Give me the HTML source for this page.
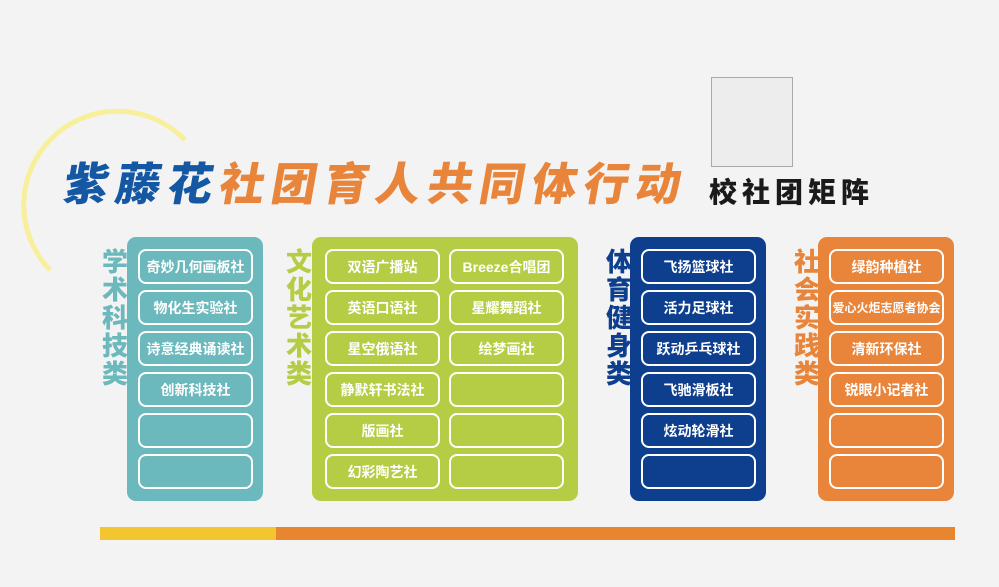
<!DOCTYPE html>
<html><head><meta charset="utf-8"><style>
body{margin:0;width:999px;height:587px;background:#f3f3f3;position:relative;overflow:hidden;font-family:"Liberation Sans","Noto Sans CJK SC",sans-serif}
.a{position:absolute}
.panel{position:absolute;border-radius:9px}
.it{position:absolute;border:2px solid #fff;border-radius:8px;box-sizing:border-box;height:35px;color:#fff;font-weight:bold;font-size:14px;display:flex;align-items:center;justify-content:center;white-space:nowrap}
.vl{position:absolute;width:26px;font-size:26px;line-height:28px;font-weight:900;text-align:center}
</style></head><body>
<svg class="a" style="left:0;top:0" width="999" height="587"><path d="M50 270 A78 78 0 0 1 185 140" fill="none" stroke="#f7ef9c" stroke-width="5"/></svg>
<div class="a" style="left:711px;top:77px;width:80px;height:88px;background:#ededed;border:1px solid #aaa"></div>
<div class="a" style="left:64px;top:160px;font-size:45px;font-weight:900;letter-spacing:7px;transform:skewX(-10deg);white-space:nowrap;line-height:50px"><span style="color:#1457a3">紫藤花</span><span style="color:#e8853a">社团育人共同体行动</span></div>
<div class="a" style="left:709px;top:178px;font-size:28px;font-weight:900;color:#1a1a1a;letter-spacing:5px;line-height:30px">校社团矩阵</div>

<div class="vl" style="left:102px;top:248px;color:#6bb8bd">学术科技类</div>
<div class="vl" style="left:286px;top:248px;color:#b5cc45">文化艺术类</div>
<div class="vl" style="left:606px;top:248px;color:#0d3f8e">体育健身类</div>
<div class="vl" style="left:794px;top:248px;color:#e8853a">社会实践类</div>

<div class="panel" style="left:127px;top:237px;width:136px;height:264px;background:#6bb8bd"></div>
<div class="panel" style="left:312px;top:237px;width:266px;height:264px;background:#b5cc45"></div>
<div class="panel" style="left:630px;top:237px;width:136px;height:264px;background:#0d3f8e"></div>
<div class="panel" style="left:818px;top:237px;width:136px;height:264px;background:#e8853a"></div>

<div class="it" style="left:138px;top:249px;width:115px">奇妙几何画板社</div>
<div class="it" style="left:138px;top:290px;width:115px">物化生实验社</div>
<div class="it" style="left:138px;top:331px;width:115px">诗意经典诵读社</div>
<div class="it" style="left:138px;top:372px;width:115px">创新科技社</div>
<div class="it" style="left:138px;top:413px;width:115px"></div>
<div class="it" style="left:138px;top:454px;width:115px"></div>

<div class="it" style="left:325px;top:249px;width:115px">双语广播站</div>
<div class="it" style="left:325px;top:290px;width:115px">英语口语社</div>
<div class="it" style="left:325px;top:331px;width:115px">星空俄语社</div>
<div class="it" style="left:325px;top:372px;width:115px">静默轩书法社</div>
<div class="it" style="left:325px;top:413px;width:115px">版画社</div>
<div class="it" style="left:325px;top:454px;width:115px">幻彩陶艺社</div>
<div class="it" style="left:449px;top:249px;width:115px">Breeze合唱团</div>
<div class="it" style="left:449px;top:290px;width:115px">星耀舞蹈社</div>
<div class="it" style="left:449px;top:331px;width:115px">绘梦画社</div>
<div class="it" style="left:449px;top:372px;width:115px"></div>
<div class="it" style="left:449px;top:413px;width:115px"></div>
<div class="it" style="left:449px;top:454px;width:115px"></div>

<div class="it" style="left:641px;top:249px;width:115px">飞扬篮球社</div>
<div class="it" style="left:641px;top:290px;width:115px">活力足球社</div>
<div class="it" style="left:641px;top:331px;width:115px">跃动乒乓球社</div>
<div class="it" style="left:641px;top:372px;width:115px">飞驰滑板社</div>
<div class="it" style="left:641px;top:413px;width:115px">炫动轮滑社</div>
<div class="it" style="left:641px;top:454px;width:115px"></div>

<div class="it" style="left:829px;top:249px;width:115px">绿韵种植社</div>
<div class="it" style="left:829px;top:290px;width:115px;font-size:12px">爱心火炬志愿者协会</div>
<div class="it" style="left:829px;top:331px;width:115px">清新环保社</div>
<div class="it" style="left:829px;top:372px;width:115px">锐眼小记者社</div>
<div class="it" style="left:829px;top:413px;width:115px"></div>
<div class="it" style="left:829px;top:454px;width:115px"></div>

<div class="a" style="left:100px;top:527px;width:176px;height:13px;background:#f3c531"></div>
<div class="a" style="left:276px;top:527px;width:679px;height:13px;background:#e8852f"></div>
</body></html>
